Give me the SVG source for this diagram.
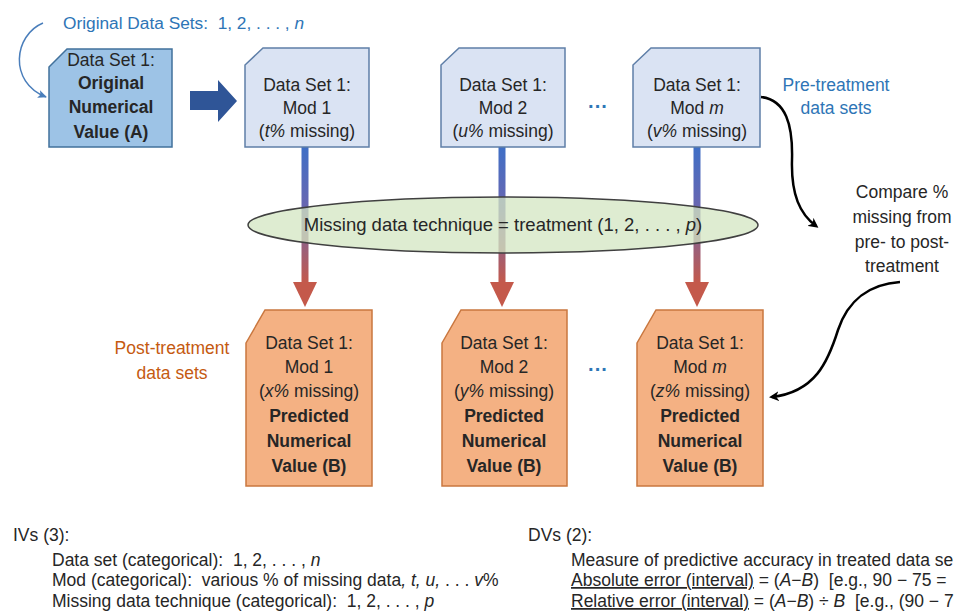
<svg xmlns="http://www.w3.org/2000/svg" width="956" height="615" viewBox="0 0 956 615">
<defs>
<linearGradient id="stemGrad" x1="0" y1="0" x2="0" y2="1">
<stop offset="0" stop-color="#3f6fc6"/>
<stop offset="0.45" stop-color="#6a66b0"/>
<stop offset="1" stop-color="#c4594b"/>
</linearGradient>
<marker id="blk" markerWidth="10" markerHeight="10" refX="7" refY="5" orient="auto" markerUnits="userSpaceOnUse">
<path d="M0,0 L10,5 L0,10 L3,5 Z" fill="#000"/>
</marker>
<marker id="blu" markerWidth="10" markerHeight="10" refX="8" refY="5" orient="auto" markerUnits="userSpaceOnUse">
<path d="M0,1 L9,5 L0,9 L2,5 Z" fill="#4a7ebb"/>
</marker>
</defs>
<style>
text{font-family:"Liberation Sans",Arial,sans-serif;fill:#262626}
.bx{font-size:17.5px;text-anchor:middle}
.b{font-weight:bold}
.blue{fill:#2e75b6}
.org{fill:#c55a11}
.orig{fill:#9dc3e6;stroke:#41719c;stroke-width:1.5}
.pre{fill:#dae3f3;stroke:#5f7fa8;stroke-width:1.5}
.post{fill:#f4b183;stroke:#c9773f;stroke-width:1.5}
.stem{fill:url(#stemGrad)}
.head{fill:#c4594b}
.dots{font-size:20px;text-anchor:middle;fill:#2e75b6;font-weight:bold}
.lbl{font-size:17.5px}
.bt{font-size:17.5px}
.curve{fill:none;stroke:#000;stroke-width:2.5}
</style>
<rect width="956" height="615" fill="#fff"/>

<g id="connectors">
<path d="M43,23 C14,35 8,82 46,97" fill="none" stroke="#4a7ebb" stroke-width="1.5" marker-end="url(#blu)"/>
<path d="M190,91 L218,91 L218,80 L237,101 L218,122 L218,110 L190,110 Z" fill="#2f5597"/>
<rect class="stem" x="301.5" y="147" width="7" height="136"/>
<rect class="stem" x="498.5" y="147" width="7" height="136"/>
<rect class="stem" x="693.5" y="147" width="7" height="136"/>
<polygon class="head" points="293,282 317,282 305,307"/>
<polygon class="head" points="490,282 514,282 502,307"/>
<polygon class="head" points="685,282 709,282 697,307"/>
<path class="curve" d="M761,97 C786,100 793,125 792,160 C791,195 800,214 816,226" marker-end="url(#blk)"/>
<path class="curve" d="M900,282 C870,284 848,300 838,330 C828,362 815,392 772,397" marker-end="url(#blk)"/>
</g>

<g id="treatment">
<ellipse cx="503" cy="225" rx="255" ry="28" fill="#d3e6c2" fill-opacity="0.75" stroke="#404040" stroke-width="1.5"/>
<text x="503" y="231" font-size="18.5px" text-anchor="middle">Missing data technique = treatment (1, 2, . . . , <tspan font-style="italic">p</tspan>)</text>
</g>

<g id="title">
<text x="63" y="29" font-size="17.3px" class="blue" xml:space="preserve">Original Data Sets:  1, 2, . . . , <tspan font-style="italic">n</tspan></text>
</g>

<g id="original">
<path class="orig" d="M49,67 L67,49 L172,49 L172,147 L49,147 Z"/>
<text class="bx" x="111" y="66">Data Set 1:</text>
<text class="bx b" x="111" y="89">Original</text>
<text class="bx b" x="111" y="113">Numerical</text>
<text class="bx b" x="111" y="138">Value (A)</text>
</g>

<g id="pre1">
<path class="pre" d="M245,65 L263,48 L369,48 L369,147 L245,147 Z"/>
<text class="bx" x="307" y="91">Data Set 1:</text>
<text class="bx" x="307" y="114">Mod 1</text>
<text class="bx" x="307" y="137">(<tspan font-style="italic">t%</tspan> missing)</text>
</g>
<g id="pre2">
<path class="pre" d="M441,65 L459,48 L565,48 L565,147 L441,147 Z"/>
<text class="bx" x="503" y="91">Data Set 1:</text>
<text class="bx" x="503" y="114">Mod 2</text>
<text class="bx" x="503" y="137">(<tspan font-style="italic">u%</tspan> missing)</text>
</g>
<g id="preDots"><text class="dots" x="598" y="113">···</text></g>
<g id="preM">
<path class="pre" d="M633,65 L651,48 L760,48 L760,147 L633,147 Z"/>
<text class="bx" x="697" y="91">Data Set 1:</text>
<text class="bx" x="697" y="114">Mod <tspan font-style="italic">m</tspan></text>
<text class="bx" x="697" y="137">(<tspan font-style="italic">v%</tspan> missing)</text>
</g>
<g id="preLabel">
<text class="lbl blue" x="836" y="91" text-anchor="middle">Pre-treatment</text>
<text class="lbl blue" x="836" y="114" text-anchor="middle">data sets</text>
</g>

<g id="compareLabel">
<text class="lbl" x="902" y="198" text-anchor="middle">Compare %</text>
<text class="lbl" x="902" y="223" text-anchor="middle">missing from</text>
<text class="lbl" x="902" y="248" text-anchor="middle">pre- to post-</text>
<text class="lbl" x="902" y="272" text-anchor="middle">treatment</text>
</g>

<g id="postLabel">
<text class="lbl org" x="172" y="354" text-anchor="middle">Post-treatment</text>
<text class="lbl org" x="172" y="379" text-anchor="middle">data sets</text>
</g>

<g id="post1">
<path class="post" d="M246,343 L265,310 L372,310 L372,486 L246,486 Z"/>
<text class="bx" x="309" y="349">Data Set 1:</text>
<text class="bx" x="309" y="373">Mod 1</text>
<text class="bx" x="309" y="397">(<tspan font-style="italic">x%</tspan> missing)</text>
<text class="bx b" x="309" y="422">Predicted</text>
<text class="bx b" x="309" y="447">Numerical</text>
<text class="bx b" x="309" y="472">Value (B)</text>
</g>
<g id="post2">
<path class="post" d="M442,343 L461,310 L567,310 L567,486 L442,486 Z"/>
<text class="bx" x="504" y="349">Data Set 1:</text>
<text class="bx" x="504" y="373">Mod 2</text>
<text class="bx" x="504" y="397">(<tspan font-style="italic">y%</tspan> missing)</text>
<text class="bx b" x="504" y="422">Predicted</text>
<text class="bx b" x="504" y="447">Numerical</text>
<text class="bx b" x="504" y="472">Value (B)</text>
</g>
<g id="postDots"><text class="dots" x="598" y="376">···</text></g>
<g id="postM">
<path class="post" d="M637,343 L656,310 L763,310 L763,486 L637,486 Z"/>
<text class="bx" x="700" y="349">Data Set 1:</text>
<text class="bx" x="700" y="373">Mod <tspan font-style="italic">m</tspan></text>
<text class="bx" x="700" y="397">(<tspan font-style="italic">z%</tspan> missing)</text>
<text class="bx b" x="700" y="422">Predicted</text>
<text class="bx b" x="700" y="447">Numerical</text>
<text class="bx b" x="700" y="472">Value (B)</text>
</g>

<g id="ivs">
<text class="bt" x="13" y="541">IVs (3):</text>
<text class="bt" x="52" y="566" xml:space="preserve">Data set (categorical):  1, 2, . . . , <tspan font-style="italic">n</tspan></text>
<text class="bt" x="52" y="586" xml:space="preserve">Mod (categorical):  various % of missing data<tspan font-style="italic">, t, u,</tspan> . . . <tspan font-style="italic">v</tspan>%</text>
<text class="bt" x="52" y="607" xml:space="preserve">Missing data technique (categorical):  1, 2, . . . , <tspan font-style="italic">p</tspan></text>
</g>

<g id="dvs">
<text class="bt" x="528" y="541">DVs (2):</text>
<text class="bt" x="571" y="566">Measure of predictive accuracy in treated data se</text>
<text class="bt" x="571" y="586" xml:space="preserve"><tspan text-decoration="underline">Absolute error (interval)</tspan> = (<tspan font-style="italic">A</tspan>−<tspan font-style="italic">B</tspan>)  [e.g., 90 − 75 =</text>
<text class="bt" x="571" y="607" xml:space="preserve"><tspan text-decoration="underline">Relative error (interval)</tspan> = (<tspan font-style="italic">A</tspan>−<tspan font-style="italic">B</tspan>) ÷ <tspan font-style="italic">B</tspan>  [e.g., (90 − 7</text>
</g>
</svg>
